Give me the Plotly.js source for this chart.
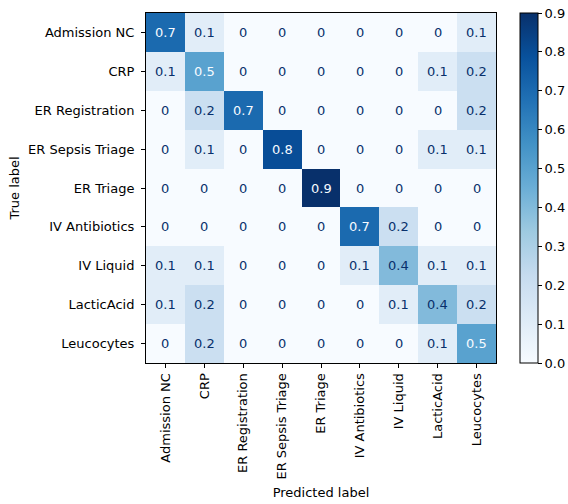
<!DOCTYPE html>
<html><head><meta charset="utf-8">
<script src="https://cdn.plot.ly/plotly-3.0.1.min.js"></script>
<style>body{margin:0;padding:0;background:#fff;}#chart{width:568px;height:504px;}</style>
</head><body><div id="chart"></div>
<script>
const labels = ["Admission NC","CRP","ER Registration","ER Sepsis Triage","ER Triage","IV Antibiotics","IV Liquid","LacticAcid","Leucocytes"];
const rowAdmission = [0.7,0.1,0,0,0,0,0,0,0.1];
const rowCRP = [0.1,0.5,0,0,0,0,0,0.1,0.2];
const rowERReg = [0,0.2,0.7,0,0,0,0,0,0.2];
const rowERSepsis = [0,0.1,0,0.8,0,0,0,0.1,0.1];
const rowERTriage = [0,0,0,0,0.9,0,0,0,0];
const rowIVAnti = [0,0,0,0,0,0.7,0.2,0,0];
const rowIVLiquid = [0.1,0.1,0,0,0,0.1,0.4,0.1,0.1];
const rowLactic = [0.1,0.2,0,0,0,0,0.1,0.4,0.2];
const rowLeuco = [0,0.2,0,0,0,0,0,0.1,0.5];
const z = [rowAdmission,rowCRP,rowERReg,rowERSepsis,rowERTriage,rowIVAnti,rowIVLiquid,rowLactic,rowLeuco];
const cbTicks = [0,0.1,0.2,0.3,0.4,0.5,0.6,0.7,0.8,0.9];

const blues = [[0,"#f7fbff"],[0.125,"#deebf7"],[0.25,"#c6dbef"],[0.375,"#9ecae1"],[0.5,"#6baed6"],[0.625,"#4292c6"],[0.75,"#2171b5"],[0.875,"#08519c"],[1,"#08306b"]];
const zmin = 0, zmax = 0.9, thresh = (zmin+zmax)/2;

const annotations = [];
z.forEach((row,i)=>row.forEach((v,j)=>{
  annotations.push({x:labels[j], y:labels[i], xref:"x", yref:"y", text:String(v), showarrow:false,
    font:{family:"DejaVu Sans", size:13, color: v>thresh ? "#f7fbff" : "#08306b"}});
}));

const font = {family:"DejaVu Sans", size:13, color:"#000"};
Plotly.newPlot("chart",[{
  type:"heatmap", x:labels, y:labels, z:z, zmin:zmin, zmax:zmax, colorscale:blues, showscale:true, xgap:0, ygap:0,
  hoverinfo:"none",
  colorbar:{x:1.0686, xanchor:"left", xref:"paper", y:0.5, yanchor:"middle", len:1, lenmode:"fraction", thickness:18,
    outlinewidth:1, outlinecolor:"#000", ticks:"outside", ticklen:4, tickcolor:"#000", tickvals:cbTicks,
    ticktext:cbTicks.map(v=>v.toFixed(1)), tickfont:font, xpad:0, ypad:0}
}],{
  width:568, height:504, margin:{l:146, r:72, t:13, b:141, autoexpand:false},
  paper_bgcolor:"#fff", plot_bgcolor:"#fff", font:font,
  xaxis:{type:"category", tickangle:-90, ticks:"outside", ticklen:4, tickcolor:"#000", showline:true, linecolor:"#000", linewidth:1, mirror:true,
    showgrid:false, zeroline:false, title:{text:"Predicted label", font:font, standoff:9}, tickfont:font, automargin:false},
  yaxis:{type:"category", autorange:"reversed", ticks:"outside", ticklen:4, tickcolor:"#000", showline:true, linecolor:"#000", linewidth:1, mirror:true,
    showgrid:false, zeroline:false, ticklabelstandoff:4, title:{text:"True label", font:font, standoff:5}, tickfont:font, automargin:false},
  annotations:annotations
},{displayModeBar:false, staticPlot:true});
</script></body></html>
